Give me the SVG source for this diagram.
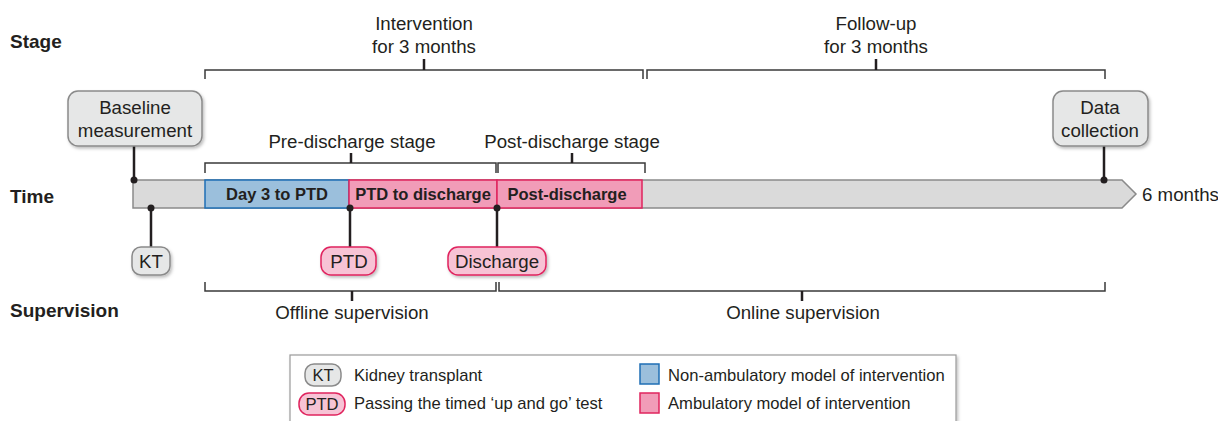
<svg xmlns="http://www.w3.org/2000/svg" width="1218" height="421" viewBox="0 0 1218 421">
<defs>
<filter id="sh" x="-20%" y="-20%" width="140%" height="150%"><feDropShadow dx="1.5" dy="2" stdDeviation="1.5" flood-color="#000" flood-opacity="0.25"/></filter>
<style>
text{font-family:"Liberation Sans",Arial,sans-serif;fill:#231f20}
.t{font-size:18.7px}
.h{font-size:19px;font-weight:bold}
.b{font-size:16.5px;font-weight:bold;text-anchor:middle}
.c{text-anchor:middle}
.br{fill:none;stroke:#3a3a3a;stroke-width:1.5}
.tk{stroke:#231f20;stroke-width:2.5}
.ln{stroke:#231f20;stroke-width:2.5}
.gb{fill:#e6e7e7;stroke:#8a8a8a;stroke-width:1.5}
.pb{fill:#f7c3d5;stroke:#e0245e;stroke-width:1.5}
.l{font-size:16.6px}
</style>
</defs>
<g id="row-labels">
<text class="h" x="10" y="48">Stage</text>
<text class="h" x="10" y="203">Time</text>
<text class="h" x="10" y="317">Supervision</text>
</g>
<g id="timeline">
<path d="M133 180 H1122 L1136 194 L1122 208 H133 Z" fill="#dadada" stroke="#8a8a8a" stroke-width="1.5"/>
<rect x="205" y="180" width="144" height="28" fill="#9bbfdc" stroke="#1f6fb5" stroke-width="1.5"/>
<rect x="349" y="180" width="148" height="28" fill="#f19cb8" stroke="#e0245e" stroke-width="1.5"/>
<rect x="497" y="180" width="145" height="28" fill="#f19cb8" stroke="#e0245e" stroke-width="1.5"/>
<text class="b" x="277" y="200">Day 3 to PTD</text>
<text class="b" x="423" y="200">PTD to discharge</text>
<text class="b" x="567" y="200">Post-discharge</text>
<text class="t" x="1142" y="201">6 months</text>
</g>
<g id="connectors">
<line class="ln" x1="134" y1="146" x2="134" y2="180"/><circle cx="134" cy="180" r="3.5" fill="#231f20"/>
<line class="ln" x1="1104" y1="146" x2="1104" y2="180"/><circle cx="1104" cy="180" r="3.5" fill="#231f20"/>
<line class="ln" x1="151" y1="208" x2="151" y2="247"/><circle cx="151" cy="208" r="3.5" fill="#231f20"/>
<line class="ln" x1="350" y1="208" x2="350" y2="247"/><circle cx="350" cy="208" r="3.5" fill="#231f20"/>
<line class="ln" x1="497" y1="208" x2="497" y2="247"/><circle cx="497" cy="208" r="3.5" fill="#231f20"/>
</g>
<g id="stage-brackets">
<path class="br" d="M205 79 V70 H643 V79"/><line class="tk" x1="424" y1="59" x2="424" y2="70"/>
<path class="br" d="M647 79 V70 H1105 V79"/><line class="tk" x1="876" y1="59" x2="876" y2="70"/>
<text class="t c" x="424" y="30">Intervention</text>
<text class="t c" x="424" y="53">for 3 months</text>
<text class="t c" x="876" y="30">Follow-up</text>
<text class="t c" x="876" y="53">for 3 months</text>
<path class="br" d="M205 173 V163 H496 V173"/><line class="tk" x1="351" y1="153" x2="351" y2="163"/>
<path class="br" d="M498 173 V163 H645 V173"/><line class="tk" x1="572" y1="153" x2="572" y2="163"/>
<text class="t c" x="352" y="148">Pre-discharge stage</text>
<text class="t c" x="572" y="148">Post-discharge stage</text>
</g>
<g id="supervision-brackets">
<path class="br" d="M205 282 V291 H496 V282"/><line class="tk" x1="352" y1="291" x2="352" y2="301"/>
<path class="br" d="M499 282 V291 H1105 V282"/><line class="tk" x1="802" y1="291" x2="802" y2="301"/>
<text class="t c" x="352" y="319">Offline supervision</text>
<text class="t c" x="803" y="319">Online supervision</text>
</g>
<g id="baseline">
<rect class="gb" x="68" y="91" width="134" height="55" rx="10" filter="url(#sh)"/>
<text class="t c" x="135" y="114">Baseline</text>
<text class="t c" x="135" y="137">measurement</text>
</g>
<g id="data-collection">
<rect class="gb" x="1053" y="91" width="95" height="55" rx="10" filter="url(#sh)"/>
<text class="t c" x="1100" y="114">Data</text>
<text class="t c" x="1100" y="137">collection</text>
</g>
<g id="kt">
<rect class="gb" x="132" y="247" width="38" height="28" rx="9" filter="url(#sh)"/>
<text class="t c" x="151" y="268">KT</text>
</g>
<g id="ptd">
<rect class="pb" x="321" y="247" width="55" height="28" rx="10" filter="url(#sh)"/>
<text class="t c" x="349" y="268">PTD</text>
</g>
<g id="discharge">
<rect class="pb" x="448" y="247" width="98" height="28" rx="10" filter="url(#sh)"/>
<text class="t c" x="497" y="268">Discharge</text>
</g>
<g id="legend">
<rect x="290" y="355" width="666" height="70" fill="#fff" stroke="#9a9a9a" stroke-width="1.2" filter="url(#sh)"/>
<rect class="gb" x="305" y="364" width="36" height="22" rx="9"/>
<text class="l c" x="323" y="381">KT</text>
<text class="l" x="354" y="381">Kidney transplant</text>
<rect class="pb" x="299" y="393" width="46" height="22" rx="10"/>
<text class="l c" x="322" y="410">PTD</text>
<text class="l" x="354" y="409">Passing the timed ‘up and go’ test</text>
<rect x="640" y="364" width="19" height="20" fill="#9bbfdc" stroke="#1f6fb5" stroke-width="1.5"/>
<text class="l" x="668" y="381">Non-ambulatory model of intervention</text>
<rect x="640" y="393" width="19" height="20" fill="#f19cb8" stroke="#e0245e" stroke-width="1.5"/>
<text class="l" x="668" y="409">Ambulatory model of intervention</text>
</g>
</svg>
